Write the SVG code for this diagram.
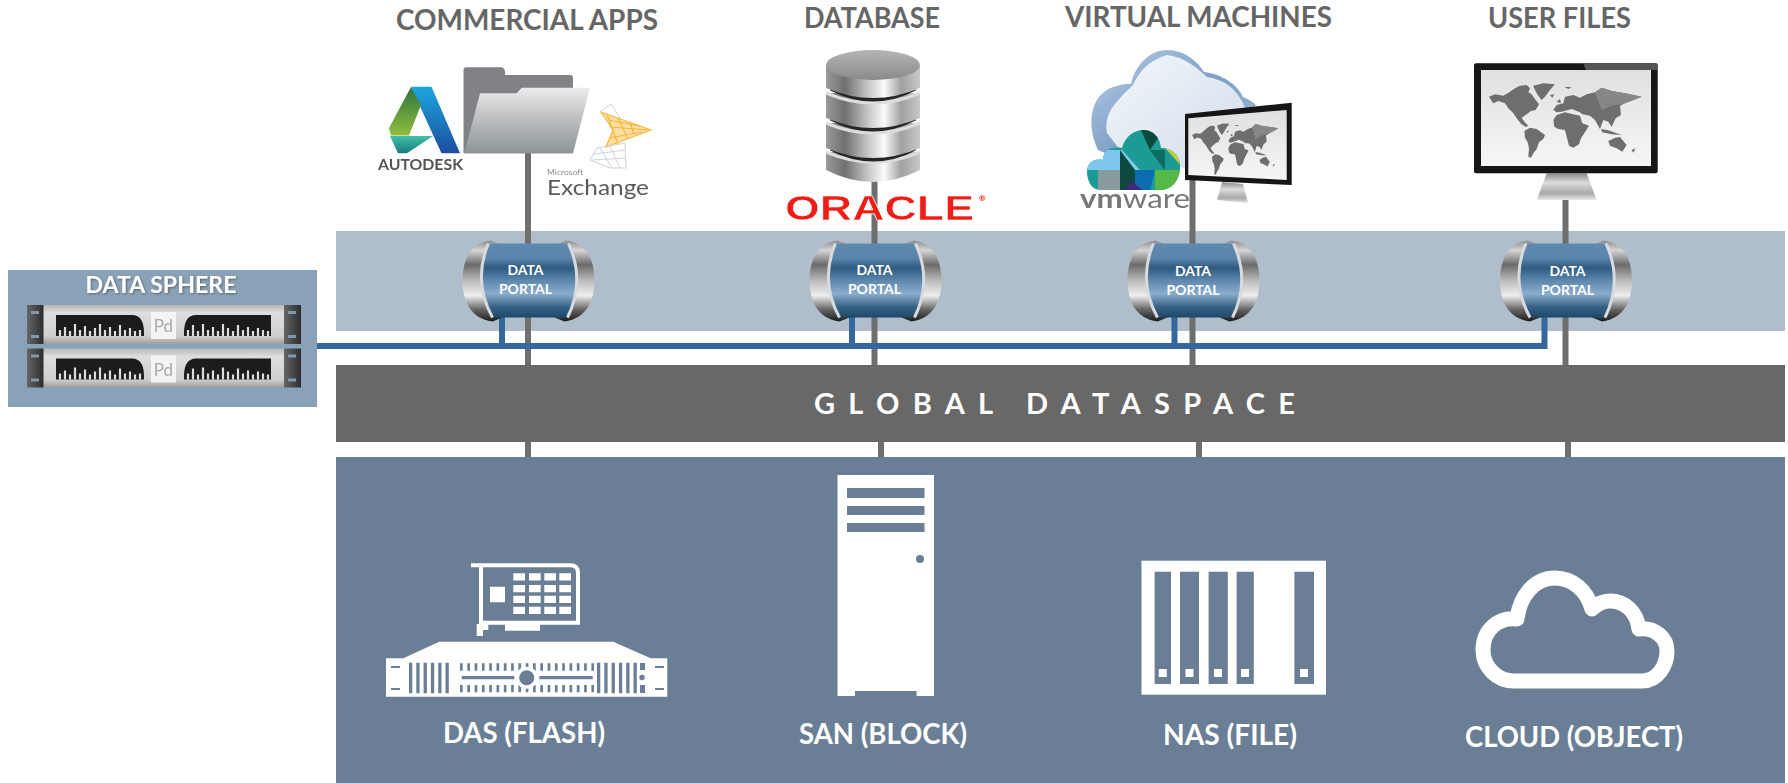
<svg xmlns="http://www.w3.org/2000/svg" xmlns:xlink="http://www.w3.org/1999/xlink" width="1788" height="783" viewBox="0 0 1788 783">
<style>
text{font-family:"Lato","Liberation Sans",sans-serif;font-weight:700}
.head{font-size:29px;fill:#666}
.store{font-size:28px;fill:#fff}
.pt{font-size:14px;fill:#fff;text-anchor:middle}
.gl{stroke:#6e6e6e;stroke-width:6;fill:none}
.bl{stroke:#34679c;stroke-width:6;fill:none}
.st{fill:#6a7f96}
.wh{fill:#fff}
.soft{filter:url(#soft)}
</style>
<defs>
<filter id="soft" x="-5%" y="-5%" width="110%" height="110%"><feGaussianBlur stdDeviation="0.5"/></filter>
<filter id="sh" x="-5%" y="-20%" width="110%" height="150%"><feDropShadow dx="1" dy="1" stdDeviation="0.8" flood-color="#444" flood-opacity="0.7"/></filter>
<linearGradient id="pb" x1="0" y1="0" x2="0" y2="1"><stop offset="0" stop-color="#5f89b0"/><stop offset=".2" stop-color="#5a84aa"/><stop offset=".33" stop-color="#2f5a80"/><stop offset=".5" stop-color="#5d87ad"/><stop offset=".68" stop-color="#8cadcc"/><stop offset=".85" stop-color="#3a6487"/><stop offset="1" stop-color="#1d4868"/></linearGradient>
<linearGradient id="pc" x1="0" y1="0" x2="0" y2="1"><stop offset="0" stop-color="#8b8b8b"/><stop offset=".12" stop-color="#d5d5d5"/><stop offset=".3" stop-color="#6a6a6a"/><stop offset=".5" stop-color="#bdbdbd"/><stop offset=".68" stop-color="#eeeeee"/><stop offset=".85" stop-color="#666"/><stop offset="1" stop-color="#1c1c1c"/></linearGradient>
<linearGradient id="fold" x1="0" y1="0" x2="0" y2="1"><stop offset="0" stop-color="#ebecee"/><stop offset=".5" stop-color="#babcbe"/><stop offset="1" stop-color="#8b9598"/></linearGradient>
<linearGradient id="adb" x1="0" y1="0" x2="0" y2="1"><stop offset="0" stop-color="#1fa6de"/><stop offset="1" stop-color="#1a4ea0"/></linearGradient>
<linearGradient id="adg" x1="0" y1="0" x2="0" y2="1"><stop offset="0" stop-color="#2b7440"/><stop offset="1" stop-color="#8fbd3c"/></linearGradient>
<linearGradient id="adt" x1="0" y1="0" x2="0" y2="1"><stop offset="0" stop-color="#40c2aa"/><stop offset="1" stop-color="#1b7a7e"/></linearGradient>
<linearGradient id="dbg" x1="0" y1="0" x2="1" y2="0"><stop offset="0" stop-color="#9a9a9a"/><stop offset=".2" stop-color="#6f6f6f"/><stop offset=".45" stop-color="#c8c8c8"/><stop offset=".62" stop-color="#fafafa"/><stop offset=".8" stop-color="#a0a0a0"/><stop offset="1" stop-color="#c9c9c9"/></linearGradient>
<linearGradient id="dbt" x1="0" y1="0" x2="0" y2="1"><stop offset="0" stop-color="#b5b5b5"/><stop offset="1" stop-color="#8a8a8a"/></linearGradient>
<linearGradient id="cl1" x1="0" y1="0" x2="1" y2="1"><stop offset="0" stop-color="#b7cde6"/><stop offset=".5" stop-color="#7e9fc6"/><stop offset="1" stop-color="#a8bfda"/></linearGradient>
<linearGradient id="cl2" x1="0" y1="0" x2="1" y2="1"><stop offset="0" stop-color="#f4f7fb"/><stop offset="1" stop-color="#cfdbea"/></linearGradient>
<linearGradient id="scr" x1="0" y1="0" x2="0" y2="1"><stop offset="0" stop-color="#dfe0e1"/><stop offset="1" stop-color="#f6f6f6"/></linearGradient>
<linearGradient id="std" x1="0" y1="0" x2="0" y2="1"><stop offset="0" stop-color="#8a8a8a"/><stop offset=".35" stop-color="#dcdcdc"/><stop offset=".75" stop-color="#a8a8a8"/><stop offset="1" stop-color="#e8e8e8"/></linearGradient>
<linearGradient id="ear" x1="0" y1="0" x2="1" y2="0"><stop offset="0" stop-color="#666"/><stop offset="1" stop-color="#2c2c2c"/></linearGradient>
<linearGradient id="rk" x1="0" y1="0" x2="0" y2="1"><stop offset="0" stop-color="#b5b5b5"/><stop offset=".2" stop-color="#dedede"/><stop offset=".8" stop-color="#cfcfcf"/><stop offset="1" stop-color="#9d9d9d"/></linearGradient>
<clipPath id="vmc"><path d="M1087 172C1087 162 1095 158 1103 160C1103 150 1112 146 1122 148C1125 136 1135 130 1143 130C1153 130 1160 137 1161 148C1172 148 1181 156 1180 167C1180 180 1172 190 1160 190H1100C1092 190 1087 181 1087 172Z"/></clipPath>
<g id="portal">
<path fill="url(#pc)" d="M-38-40C-58-38-66-20-66 0C-66 20-58 38-36 41L-26 37C-46 15-46-15-30-37Z"/>
<path fill="url(#pc)" d="M38-40C58-38 66-20 66 0C66 20 58 38 36 41L26 37C46 15 46-15 30-37Z"/>
<path fill="url(#pb)" d="M-40-37H40Q57 0 39 37H-36Q-56 0-40-37Z"/>
<path fill="none" stroke="#d8dadd" stroke-width="3" d="M-40-37Q-56 0-36 37M40-37Q57 0 39 37"/>
</g>
<g id="rack">
<rect x="43" y="0" width="241" height="39" fill="url(#rk)"/>
<rect x="27" y="0" width="16.500" height="39" fill="url(#ear)"/>
<rect x="284" y="0" width="17" height="39" fill="url(#ear)"/>
<path fill="#7d98af" d="M31 6h8v3h-8zM31 30h8v3h-8zM288 6h8v3h-8zM288 30h8v3h-8z"/>
<path fill="#1c1c1c" d="M56 10H132Q144 10 144 28V31H56ZM271 10H196Q184 10 184 28V31H271Z"/>
<path fill="none" stroke="#ddd" stroke-width="2.200" d="M60 31v-6M65 31v-9M70 31v-5M75 31v-12M80 31v-6M85 31v-10M90 31v-5M95 31v-8M100 31v-12M105 31v-6M110 31v-9M115 31v-5M120 31v-11M125 31v-6M130 31v-8M135 31v-5M140 31v-6M188 31v-6M193 31v-11M198 31v-5M203 31v-12M208 31v-6M213 31v-9M218 31v-5M223 31v-12M228 31v-8M233 31v-5M238 31v-11M243 31v-6M248 31v-9M253 31v-5M258 31v-8M263 31v-6M268 31v-5"/>
<rect x="151" y="7" width="25" height="27" fill="#f4f4f4"/>
<text x="163.500" y="27" text-anchor="middle" font-size="17" style="font-weight:400;fill:#aaa">Pd</text>
</g>
<g id="map">
<path d="M72 125L90 118L115 122L128 115L150 100L165 92L185 90L195 100L190 112L200 118L208 130L222 148L212 165L198 168L185 178L170 188L178 200L190 212L182 216L168 206L155 190L145 175L130 160L120 145L100 138L85 145L78 135Z"/>
<path d="M205 92L235 85L270 88L255 105L240 125L230 135L218 120L210 105Z"/>
<path d="M178 228L195 218L215 222L240 240L235 252L222 262L215 282L205 295L198 308L190 305L192 280L188 262L180 248Z"/>
<path d="M265 195L275 180L300 172L325 178L345 182L352 205L372 212L358 235L348 250L342 268L325 278L312 272L305 245L300 225L280 222L268 215Z"/>
<path d="M265 165L275 150L295 145L300 125L325 120L345 128L365 118L390 112L410 98L440 108L480 115L530 125L505 135L480 145L465 152L468 180L452 190L440 215L430 200L415 195L405 222L390 195L375 182L352 178L345 172L320 162L290 170L275 172Z"/>
<path fill="#878787" d="M390 112L410 98L440 108L480 115L530 125L505 135L480 145L440 152L410 165Z"/>
<path d="M430 258L450 248L465 246L485 270L472 290L455 280L435 272Z"/>
<path d="M408 222L430 226L470 240L440 238L412 232Z"/>
<path d="M298 95L320 97L310 102ZM500 285L512 280L505 293ZM255 120L268 118L262 128ZM275 140L285 132L288 145Z"/>
</g>
</defs>

<g id="bands">
<rect id="portal-band" x="336" y="231" width="1449" height="100" fill="#b0bdca"/>
</g>

<g id="connectors">
<path class="gl" d="M528 150V365M874.500 180V365M1192.500 180V365M1565.500 200V365M528 442V457M881 442V457M1199 442V457M1568 442V457"/>
<path class="bl" d="M317 346H1544.500V317M502 317V346M852 317V346M1174.500 317V346"/>
</g>

<g id="global-dataspace">
<rect x="336" y="365" width="1449" height="77" fill="#686868"/>
<text x="814" y="414" font-size="29" fill="#fff" textLength="481">GLOBAL DATASPACE</text>
</g>

<g id="data-sphere">
<rect x="8" y="270" width="309" height="137" fill="#8aa2b8"/>
<text x="161" y="293" font-size="23" fill="#fff" text-anchor="middle" textLength="151" lengthAdjust="spacingAndGlyphs" filter="url(#sh)">DATA SPHERE</text>
<use xlink:href="#rack" href="#rack" y="305" class="soft"/>
<use xlink:href="#rack" href="#rack" y="348.500" class="soft"/>
</g>

<g id="commercial-apps">
<text class="head" x="396" y="30" textLength="262" lengthAdjust="spacingAndGlyphs">COMMERCIAL APPS</text>
<g class="soft">
<path fill="url(#adb)" d="M411 86.700H431.500L460 153.300H441.500Z"/>
<path fill="url(#adg)" d="M411 87L421 105L409 135.500H391L389 128Z"/>
<path fill="url(#adt)" d="M390 136H433L407 153.300H398Z"/>
<path fill="#808285" d="M466 67.300H501Q504 67.300 505 71V75H570Q573 75 573 78V153.300H463.500V70Q463.500 67.300 466 67.300Z"/>
<path fill="url(#fold)" d="M521.700 87.700H590L573 153.300H464.300L480 93.300H516.700Z"/>
<path fill="#fbe0a0" d="M601 112L651 130L606 147L613 130Z"/>
<g fill="none" stroke="#f5ad2e" stroke-width="1.200" opacity=".85"><path d="M601 112L651 130L606 147L613 130Z"/><path d="M607 115L618 144M618 118L628 139M630 122L634 134M610 127L648 130M608 120L640 126M609 138L642 132"/></g>
<g fill="none" stroke="#cbd2da" stroke-width="1"><path d="M600 112L611 104L620 118M597 148L590 160L610 168L626 168L625 143Z"/><path d="M594 154L625 150M592 160L626 158M600 148L612 168M610 146L620 168"/></g>
<text x="378" y="170" font-size="15" fill="#555" textLength="85" lengthAdjust="spacingAndGlyphs">AUTODESK</text>
<text x="547" y="175" font-size="8" fill="#888" textLength="36" lengthAdjust="spacingAndGlyphs" style="font-weight:400">Microsoft</text>
<text x="547" y="195" font-size="21" fill="#5a5a5a" textLength="102" lengthAdjust="spacingAndGlyphs" style="font-weight:400">Exchange</text>
</g>
</g>

<g id="database">
<text class="head" x="804" y="28" textLength="136" lengthAdjust="spacingAndGlyphs">DATABASE</text>
<g class="soft">
<path fill="url(#dbg)" d="M826 152V170Q873 194 920 170V152Z"/>
<path fill="none" stroke="#ddd" stroke-width="3" d="M826 152Q873 172 920 152"/>
<path fill="none" stroke="#262626" stroke-width="5" d="M831 148Q873 170 915 148"/>
<path fill="url(#dbg)" d="M826 123V148Q873 168 920 148V123Z"/>
<path fill="none" stroke="#ddd" stroke-width="3" d="M826 123Q873 143 920 123"/>
<path fill="none" stroke="#262626" stroke-width="5" d="M831 118Q873 140 915 118"/>
<path fill="url(#dbg)" d="M826 93V118Q873 138 920 118V93Z"/>
<path fill="none" stroke="#ddd" stroke-width="3" d="M826 93Q873 113 920 93"/>
<path fill="none" stroke="#262626" stroke-width="5" d="M831 88Q873 110 915 88"/>
<path fill="url(#dbg)" d="M826 65V88Q873 108 920 88V65Z"/>
<ellipse cx="873" cy="65" rx="47" ry="15" fill="url(#dbt)"/>
<text x="785" y="220" font-size="35" fill="#f01a14" textLength="189" lengthAdjust="spacingAndGlyphs" stroke="#fff" stroke-width="0.600" style="font-family:'Liberation Sans',sans-serif">ORACLE</text>
<text x="979" y="201" font-size="8" fill="#f01a14">®</text>
</g>
</g>

<g id="virtual-machines">
<text class="head" x="1065" y="27" textLength="267" lengthAdjust="spacingAndGlyphs">VIRTUAL MACHINES</text>
<g class="soft">
<path fill="url(#cl1)" d="M1098 150C1086 125 1090 95 1113 87C1122 84 1128 83 1131 84C1135 65 1150 50 1167 50C1185 50 1198 62 1204 72C1222 74 1238 85 1243 97C1250 100 1254 103 1256 105L1200 170L1110 155Z"/>
<path fill="url(#cl2)" d="M1107 133C1104 115 1112 105 1133 85C1140 70 1150 60 1167 55C1185 57 1197 68 1207 77C1225 80 1235 88 1243 103L1250 120L1190 170L1120 150Z"/>
<g clip-path="url(#vmc)">
<rect x="1085" y="128" width="100" height="64" fill="#1b9a94"/>
<path fill="#7cc8ee" d="M1085 150H1122L1140 170H1085Z"/>
<path fill="#8a9ba0" d="M1098 170H1120V190H1098Z"/>
<path fill="#0c4a3d" d="M1120 150L1150 190H1120ZM1140 128H1165L1150 150ZM1150 150H1165V170Z"/>
<path fill="#0a6cb0" d="M1135 170H1155L1150 190H1135Z"/>
<path fill="#3c2a7a" d="M1130 180L1145 192H1125Z"/>
<path fill="#c4cf3a" d="M1165 148H1185V170Z"/>
<path fill="#57b947" d="M1155 170H1185L1170 192H1155Z"/>
<path fill="#0f6d63" d="M1165 150V170L1150 150Z"/>
</g>
<text x="1080" y="208" font-size="27" fill="#777" textLength="110" lengthAdjust="spacingAndGlyphs" style="font-weight:400"><tspan style="font-weight:700">vm</tspan>ware</text>
<path fill="url(#std)" d="M1222 182L1243 184L1248 203L1217 200Z"/>
<path fill="#151515" d="M1185 114L1291.700 102.700V185L1185 180Z"/>
<path fill="url(#scr)" d="M1188.300 118.300L1286.700 110V180L1188.300 175Z"/>
<use xlink:href="#map" href="#map" transform="matrix(.1883 -.0145 0 .2267 1178.500 107.700)" fill="#6e6e6e"/>
</g>
</g>

<g id="user-files">
<text class="head" x="1488" y="27.500" textLength="143" lengthAdjust="spacingAndGlyphs">USER FILES</text>
<g class="soft">
<path fill="url(#std)" d="M1546.700 173.300H1586.700L1596.700 200H1536.700Z"/>
<rect x="1474" y="63.300" width="183.700" height="110" rx="2" fill="#141414"/>
<path fill="#555" d="M1583 63.300H1655.700Q1657.700 63.300 1657.700 65.300V70H1586Z"/>
<rect x="1481" y="70" width="170" height="96" fill="url(#scr)"/>
<use xlink:href="#map" href="#map" transform="matrix(.3333 0 0 .3333 1465 55)" fill="#6e6e6e"/>
</g>
</g>

<g id="storage-band">
<rect x="336" y="457" width="1449" height="326" fill="#6a7f96"/>
</g>

<g id="das">
<path class="wh" d="M439.300 641.700H613.300L650.700 658.300H667.300V696.700H386V658.300H403.300Z"/>
<g class="st"><path d="M391 666h9v2h-9zM391 688h9v2h-9zM655 666h9v2h-9zM655 688h9v2h-9z"/></g>
<g fill="none" stroke="#6a7f96">
<path stroke-width="30.600" stroke-dasharray="3.300 4" d="M409 678H452M597 678H640"/>
<path stroke-width="7.300" stroke-dasharray="2.700 4.600" d="M460 667H594M460 688.700H594"/>
<path stroke-width="3.300" d="M461.700 677.700H514.300M539.300 677.700H592.700"/>
</g>
<circle cx="526.700" cy="677.700" r="11" class="wh"/>
<circle cx="526.700" cy="677.700" r="7.500" class="st"/>
<rect x="640" y="660" width="6" height="36" class="wh"/>
<path fill="#6a7f96" d="M640 663h5v7h-5zM640 685h5v8h-5z"/>
<circle cx="642" cy="677.500" r="2.700" class="st"/>
<path fill="none" stroke="#fff" stroke-width="4" d="M471 565.300H570Q578 565.300 578 573V622.700H481M481 565V636"/>
<path class="wh" d="M505 622H540V630.700H505ZM476.700 636H481.700V630H488.300V624H476.700Z"/>
<path class="wh" d="M490 586.700h15v15.600h-15zM513.300 573.300h11.700v7.300h-11.700zM529 573.300h11.700v7.300h-11.700zM544.300 573.300h11.700v7.300h-11.700zM559.300 573.300h11.700v7.300h-11.700zM513.300 585h11.700v7.300h-11.700zM529 585h11.700v7.300h-11.700zM544.300 585h11.700v7.300h-11.700zM559.300 585h11.700v7.300h-11.700zM513.300 595.700h11.700v7.300h-11.700zM529 595.700h11.700v7.300h-11.700zM544.300 595.700h11.700v7.300h-11.700zM559.300 595.700h11.700v7.300h-11.700zM513.300 606.700h11.700v7.300h-11.700zM529 606.700h11.700v7.300h-11.700zM544.300 606.700h11.700v7.300h-11.700zM559.300 606.700h11.700v7.300h-11.700z"/>
<text class="store" x="443" y="743" textLength="162" lengthAdjust="spacingAndGlyphs">DAS (FLASH)</text>
</g>

<g id="san">
<path class="wh" d="M837.500 475H934V696H916.600V691H855V696H837.500Z"/>
<path class="st" d="M847 488h77.500v10h-77.500zM847 506h77.500v9h-77.500zM847 523h77.500v9h-77.500z"/>
<circle cx="920" cy="559" r="4" class="st"/>
<text class="store" x="799" y="744" textLength="168" lengthAdjust="spacingAndGlyphs">SAN (BLOCK)</text>
</g>

<g id="nas">
<rect x="1141.500" y="560.700" width="184.500" height="134" class="wh"/>
<path class="st" d="M1154.600 571.700h16.400v112.300h-16.400zM1180 571.700h19v112.300h-19zM1208.600 571.700h19.200v112.300h-19.200zM1236.600 571.700h17.200v112.300h-17.200zM1294.400 571.700h19.600v112.300h-19.600z"/>
<path class="wh" d="M1158.800 669h8v8h-8zM1185.500 669h8v8h-8zM1214 669h8v8h-8zM1241 669h8v8h-8zM1300 669h8v8h-8z"/>
<text class="store" x="1163" y="745" textLength="134" lengthAdjust="spacingAndGlyphs">NAS (FILE)</text>
</g>

<g id="cloud">
<path fill="none" stroke="#fff" stroke-width="15" stroke-linejoin="round" d="M1514 681H1642C1658 681 1667 665 1667 651C1667 638 1655 627 1639 629C1637 612 1625 601 1610 601C1603 601 1597 604 1592 609C1587 590 1572 578 1555 578C1535 578 1520 595 1517 619C1498 617 1483 630 1483 650C1483 667 1497 681 1514 681Z"/>
<text class="store" x="1465" y="747" textLength="218" lengthAdjust="spacingAndGlyphs">CLOUD (OBJECT)</text>
</g>

<g id="portal-1"><use xlink:href="#portal" href="#portal" x="528.500" y="280.500"/><text class="pt" x="525.500" y="275">DATA</text><text class="pt" x="525.500" y="294">PORTAL</text></g>
<g id="portal-2"><use xlink:href="#portal" href="#portal" x="875.500" y="280.500"/><text class="pt" x="874.500" y="275">DATA</text><text class="pt" x="874.500" y="294">PORTAL</text></g>
<g id="portal-3"><use xlink:href="#portal" href="#portal" x="1193.500" y="280.500"/><text class="pt" x="1193" y="276">DATA</text><text class="pt" x="1193" y="295">PORTAL</text></g>
<g id="portal-4"><use xlink:href="#portal" href="#portal" x="1566" y="280.500"/><text class="pt" x="1567.500" y="276">DATA</text><text class="pt" x="1567.500" y="295">PORTAL</text></g>
</svg>
